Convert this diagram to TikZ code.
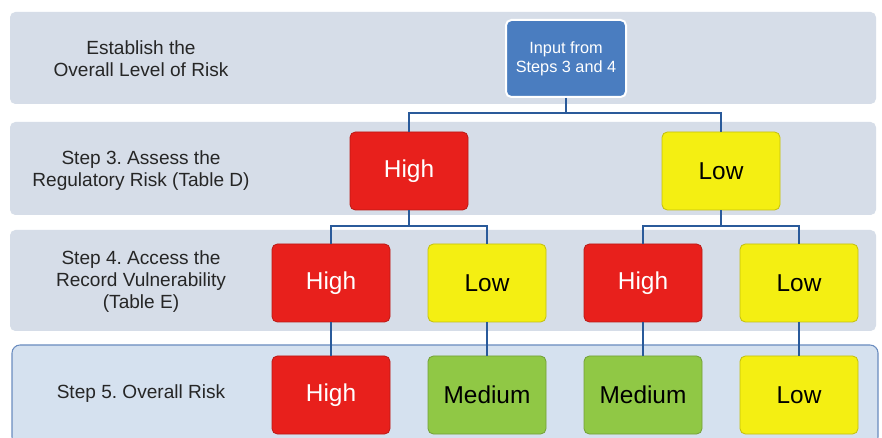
\documentclass[tikz,border=0pt]{standalone}
\usepackage{fontspec}
\setmainfont{Liberation Sans}
\frenchspacing
\usetikzlibrary{positioning}
\definecolor{bandc}{HTML}{D6DDE8}
\definecolor{bandd}{HTML}{D5E1EF}
\definecolor{bandline}{HTML}{6A8CBF}
\definecolor{redc}{HTML}{E8201C}
\definecolor{yelc}{HTML}{F4EF12}
\definecolor{grnc}{HTML}{90C845}
\definecolor{bluc}{HTML}{4A7DC0}
\definecolor{linec}{HTML}{2A5A9A}
\tikzset{
  band/.style={fill=bandc, draw=none, rounded corners=4pt},
  lbl/.style={align=center, font=\fontsize{14.3}{16.5}\selectfont, text=black!85},
  riskbox/.style={minimum width=88.5pt, minimum height=58.5pt, rounded corners=4pt, draw=#1!80!black, line width=0.6pt, fill=#1, font=\fontsize{18.3}{20}\selectfont},
  conn/.style={draw=linec, line width=1.5pt}
}
\begin{document}
\begin{tikzpicture}[x=0.75pt,y=-0.75pt]
\useasboundingbox (0,0) rectangle (882,438);
\fill[white] (0,0) rectangle (882,438);
% bands
\fill[band] (10,12) rectangle (876,104);
\fill[band] (10,122) rectangle (876,215);
\fill[band] (10,230) rectangle (876,331);
\draw[fill=bandd, draw=bandline, line width=0.8pt, rounded corners=6pt] (12,345) rectangle (878,445);
% labels
\node[lbl] (l1) at (141,59) {Establish the\\Overall Level of Risk};
\node[lbl] (l2) at (141,171) {Step 3. Assess the\\Regulatory Risk (Table D)};
\node[lbl] (l3) at (141,282) {Step 4. Access the\\Record Vulnerability\\(Table E)};
\node[lbl] (l4) at (141,394) {Step 5. Overall Risk};
% input
\node[draw=white, line width=1.5pt, fill=bluc, rounded corners=4pt, minimum width=90pt, minimum height=57.75pt, align=center, text=white, font=\fontsize{12.2}{14}\selectfont] (in) at (566,58.5) {Input from\\Steps 3 and 4};
% step 3
\node[riskbox=redc, text=white] (h3) at (409,171) {High};
\node[riskbox=yelc, text=black] (l3b) at (721,171) {Low};
% step 4
\node[riskbox=redc, text=white] (a4) at (331,283) {High};
\node[riskbox=yelc, text=black] (b4) at (487,283) {Low};
\node[riskbox=redc, text=white] (c4) at (643,283) {High};
\node[riskbox=yelc, text=black] (d4) at (799,283) {Low};
% step 5
\node[riskbox=redc, text=white] (a5) at (331,395) {High};
\node[riskbox=grnc, text=black] (b5) at (487,395) {Medium};
\node[riskbox=grnc, text=black] (c5) at (643,395) {Medium};
\node[riskbox=yelc, text=black] (d5) at (799,395) {Low};
% connectors
\coordinate (j1) at (566,113);
\coordinate (j2) at (409,226);
\coordinate (j3) at (721,226);
\draw[conn] (in.south) -- (j1);
\draw[conn] (h3.north) |- (j1) -| (l3b.north);
\draw[conn] (h3.south) -- (j2);
\draw[conn] (a4.north) |- (j2) -| (b4.north);
\draw[conn] (l3b.south) -- (j3);
\draw[conn] (c4.north) |- (j3) -| (d4.north);
\draw[conn] (a4.south) -- (a5.north);
\draw[conn] (b4.south) -- (b5.north);
\draw[conn] (c4.south) -- (c5.north);
\draw[conn] (d4.south) -- (d5.north);
\end{tikzpicture}
\end{document}
